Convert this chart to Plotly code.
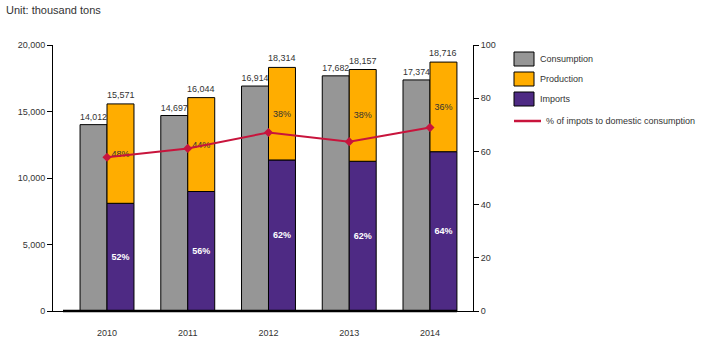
import plotly.graph_objects as go

# Annual figures, thousand tons
years = ["2010", "2011", "2012", "2013", "2014"]
consumption = [14012, 14697, 16914, 17682, 17374]
total_supply = [15571, 16044, 18314, 18157, 18716]   # production + imports
import_share = [52, 56, 62, 62, 64]                 # % of supply that is imported
production_share = [48, 44, 38, 38, 36]             # % of supply produced at home

imports = [t * s / 100 for t, s in zip(total_supply, import_share)]
production = [t - i for t, i in zip(total_supply, imports)]
import_ratio = [i / c * 100 for i, c in zip(imports, consumption)]

FONT = "Liberation Sans, Arial, sans-serif"
TXT = "#333333"
GRAY = "#969696"
ORANGE = "#FFAD00"
PURPLE = "#4E2A84"
RED = "#C8143C"

BW = 0.334  # bar width in category units

fig = go.Figure()

fig.add_trace(go.Bar(
    name="Consumption", x=years, y=consumption,
    width=BW, offset=-BW,
    marker=dict(color=GRAY, line=dict(color="black", width=1)),
    texttemplate="%{y:,}", textposition="outside",
    textfont=dict(family=FONT, size=9, color=TXT),
    cliponaxis=False,
))
fig.add_trace(go.Bar(
    name="Imports", x=years, y=imports, base=0,
    width=BW, offset=0,
    marker=dict(color=PURPLE, line=dict(color="black", width=1)),
    text=[f"<b>{s}%</b>" for s in import_share],
    textposition="inside", insidetextanchor="middle",
    textfont=dict(family=FONT, size=9, color="white"),
))
fig.add_trace(go.Bar(
    name="Production", x=years, y=production, base=imports,
    width=BW, offset=0,
    marker=dict(color=ORANGE, line=dict(color="black", width=1)),
    text=[f"{s}%" for s in production_share],
    textposition="inside", insidetextanchor="middle",
    textfont=dict(family=FONT, size=9, color=TXT),
))
fig.add_trace(go.Scatter(
    name="% of impots to domestic consumption", x=years, y=import_ratio,
    yaxis="y2", mode="lines+markers",
    line=dict(color=RED, width=2),
    marker=dict(symbol="diamond", size=7, color=RED),
))


# Paper-coordinate helpers for the legend block (plot area 53..473 x 45..311 px)
def px(x):
    return (x - 53) / 420


def py(y):
    return (311 - y) / 266


# Total supply labels above the stacked bars (x as category index)
annotations = [
    dict(x=i, y=t, xref="x", yref="y", text=f"{t:,}", showarrow=False,
         xshift=13.5, yanchor="bottom", yshift=2,
         font=dict(family=FONT, size=9, color=TXT))
    for i, t in enumerate(total_supply)
]

annotations.append(dict(
    x=px(4), y=py(10), xref="paper", yref="paper", text="Unit: thousand tons",
    showarrow=False, xanchor="left", yanchor="middle",
    font=dict(family=FONT, size=11, color=TXT),
))

shapes = [
    # heavy baseline under the bars
    dict(type="line", xref="paper", yref="paper", x0=px(63), x1=px(457),
         y0=0, y1=0, line=dict(color="black", width=2.5)),
]

legend_items = [("Consumption", GRAY, 59), ("Production", ORANGE, 79), ("Imports", PURPLE, 99)]
for label, col, yc in legend_items:
    shapes.append(dict(type="rect", xref="paper", yref="paper",
                       x0=px(514), x1=px(534), y0=py(yc - 7), y1=py(yc + 7),
                       fillcolor=col, line=dict(color="black", width=1)))
    annotations.append(dict(x=px(538), y=py(yc), xref="paper", yref="paper",
                            text=label, showarrow=False, xanchor="left",
                            yanchor="middle",
                            font=dict(family=FONT, size=9, color=TXT)))

shapes.append(dict(type="line", xref="paper", yref="paper",
                   x0=px(514), x1=px(541), y0=py(121), y1=py(121),
                   line=dict(color=RED, width=2.5)))
annotations.append(dict(x=px(544), y=py(121), xref="paper", yref="paper",
                        text="% of impots to domestic consumption",
                        showarrow=False, xanchor="left", yanchor="middle",
                        font=dict(family=FONT, size=9, color=TXT)))

fig.add_trace(go.Scatter(
    x=[px(527.5)], y=[py(121)], xaxis="x2", yaxis="y3", mode="markers",
    marker=dict(symbol="diamond", size=7, color=RED), showlegend=False,
    hoverinfo="skip", cliponaxis=False,
))

fig.update_layout(
    width=716, height=344,
    margin=dict(l=53, r=243, t=45, b=33, autoexpand=False),
    paper_bgcolor="white", plot_bgcolor="white",
    barmode="overlay",
    showlegend=False,
    font=dict(family=FONT, size=9, color=TXT),
    xaxis=dict(
        type="category", range=[-0.669, 4.533], automargin=False,
        showline=True, linecolor="black", linewidth=1,
        ticks="", showgrid=False, zeroline=False,
        ticklabelstandoff=13,
        tickfont=dict(family=FONT, size=9, color=TXT),
    ),
    yaxis=dict(
        range=[0, 20000], tickvals=[0, 5000, 10000, 15000, 20000],
        tickformat=",d", showline=True, linecolor="black", linewidth=1,
        ticks="outside", ticklen=5, tickcolor="black", automargin=False,
        showgrid=False, zeroline=False,
        tickfont=dict(family=FONT, size=9, color=TXT),
    ),
    yaxis2=dict(
        range=[0, 100], tickvals=[0, 20, 40, 60, 80, 100],
        overlaying="y", side="right", automargin=False,
        showline=True, linecolor="black", linewidth=1,
        ticks="outside", ticklen=5, tickcolor="black",
        showgrid=False, zeroline=False,
        tickfont=dict(family=FONT, size=9, color=TXT),
    ),
    xaxis2=dict(overlaying="x", range=[0, 1], visible=False),
    yaxis3=dict(overlaying="y", range=[0, 1], visible=False),
    shapes=shapes,
    annotations=annotations,
)

fig.write_html("out.html")
